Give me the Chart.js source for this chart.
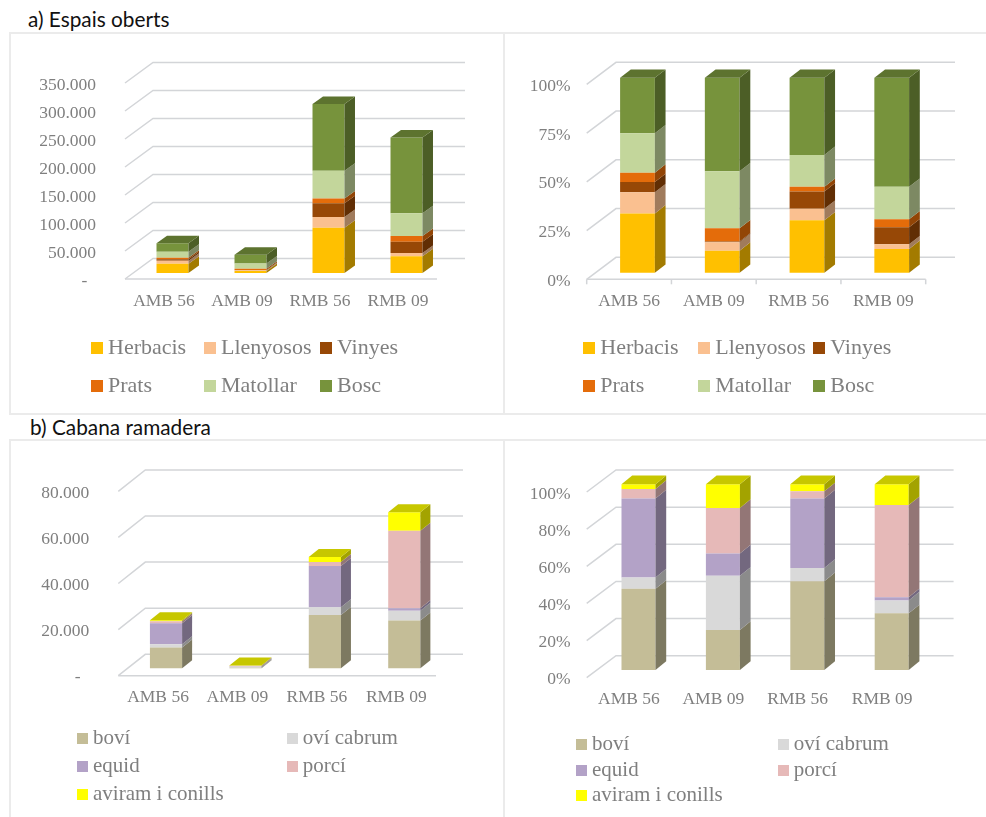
<!DOCTYPE html>
<html>
<head>
<meta charset="utf-8">
<title>Espais oberts i cabana ramadera</title>
<script src="https://cdn.jsdelivr.net/npm/chart.js@4"></script>
<style>
  html, body { margin: 0; padding: 0; background: #fff; }
  body { position: relative; width: 986px; height: 817px; overflow: hidden; filter: blur(0.4px); }
  .title { position: absolute; font-family: Lato, sans-serif; font-size: 20.8px; color: #111; white-space: nowrap; }
  .panel { position: absolute; box-sizing: border-box; border: 2px solid #ebebeb; border-right: none; }
  .panel canvas { position: absolute; left: -2px; top: -2px; }
  .item { position: absolute; font-family: "Liberation Serif", serif; color: #7f7f7f; white-space: nowrap; line-height: 1; }
  .item i { position: absolute; display: block; }
</style>
</head>
<body>
<div class="title" style="left:28px;top:6px">a) Espais oberts</div>
<div class="title" style="left:30px;top:414px">b) Cabana ramadera</div>
<div class="panel" id="p0"><canvas id="c0"></canvas></div>
<div class="panel" id="p1"><canvas id="c1"></canvas></div>
<div class="panel" id="p2"><canvas id="c2"></canvas></div>
<div class="panel" id="p3"><canvas id="c3"></canvas></div>
<script>
const categories = ['AMB 56', 'AMB 09', 'RMB 56', 'RMB 09'];

const landNames = ['Herbacis', 'Llenyosos', 'Vinyes', 'Prats', 'Matollar', 'Bosc'];
const landColors = ['#ffc000', '#fac090', '#974806', '#e46c0a', '#c3d69b', '#77933c'];
const herdNames = ['boví', 'oví cabrum', 'equid', 'porcí', 'aviram i conills'];
const herdColors = ['#c4bd97', '#d9d9d9', '#b3a2c7', '#e6b9b8', '#ffff00'];

// a) left, hectares
const herbacisAbs = [16300, 3700, 80800, 29700];
const llenyososAbs = [5600, 1400, 19000, 5900];
const vinyesAbs = [2700, 130, 24900, 20200];
const pratsAbs = [2500, 2200, 8300, 10100];
const matollarAbs = [10700, 9500, 49400, 41000];
const boscAbs = [15300, 15700, 119400, 134900];

// a) right, shares
const herbacisPct = [30.4, 11.3, 26.9, 12.2];
const llenyososPct = [10.8, 4.3, 5.9, 2.4];
const vinyesPct = [5.3, 0.4, 8.9, 8.7];
const pratsPct = [4.8, 6.8, 2.4, 4.1];
const matollarPct = [20.2, 29.2, 16.3, 16.7];
const boscPct = [28.5, 48.0, 39.6, 55.9];

// b) left, heads
const boviAbs = [9000, 270, 23100, 20700];
const oviAbs = [1400, 350, 3400, 4300];
const equidAbs = [9100, 145, 17900, 1000];
const porciAbs = [900, 290, 1700, 33700];
const aviramAbs = [400, 155, 2200, 8000];

// b) right, shares
const boviPct = [43.7, 21.5, 47.8, 30.5];
const oviPct = [6.1, 29.2, 7.1, 6.9];
const equidPct = [42.6, 12.1, 37.5, 1.8];
const porciPct = [5.1, 24.4, 3.8, 49.6];
const aviramPct = [2.5, 12.8, 3.8, 11.2];

const landTicksAbs = ['-  ', '50.000', '100.000', '150.000', '200.000', '250.000', '300.000', '350.000'];
const landTicksPct = ['0%', '25%', '50%', '75%', '100%'];
const herdTicksAbs = ['-  ', '20.000', '40.000', '60.000', '80.000'];
const herdTicksPct = ['0%', '20%', '40%', '60%', '80%', '100%'];

// tick labels sit this far under the line they belong to
const labelDrop = 2;
const lineColor = '#d3d5d8';

function shade(hex, f) {
  let n = parseInt(hex.slice(1), 16);
  let r = Math.round((n >> 16) * f);
  let g = Math.round(((n >> 8) & 255) * f);
  let b = Math.round((n & 255) * f);
  return 'rgb(' + r + ',' + g + ',' + b + ')';
}

function poly(ctx, pts, color) {
  ctx.fillStyle = color;
  ctx.beginPath();
  ctx.moveTo(pts[0][0], pts[0][1]);
  for (let i = 1; i < pts.length; i++) ctx.lineTo(pts[i][0], pts[i][1]);
  ctx.closePath();
  ctx.fill();
}

// fake Excel 3D look: walls behind the bars, side and top faces on them
const fake3d = {
  id: 'fake3d',
  beforeDatasetsDraw(chart, args, o) {
    let ctx = chart.ctx;
    let y = chart.scales.y;
    let x = chart.scales.x;
    let area = chart.chartArea;
    ctx.save();
    ctx.strokeStyle = lineColor;
    ctx.lineWidth = 1.5;
    y.ticks.forEach(function (t, i) {
      let py = y.getPixelForTick(i) - labelDrop;
      ctx.beginPath();
      ctx.moveTo(area.left, py);
      ctx.lineTo(area.left + o.wallDx, py - o.wallDy);
      ctx.lineTo(area.right + o.wallDx, py - o.wallDy);
      ctx.stroke();
    });
    let floorY = area.bottom - labelDrop;
    if (o.floor) {
      ctx.beginPath();
      ctx.moveTo(area.left, floorY);
      ctx.lineTo(area.right, floorY);
      ctx.stroke();
    }
    if (o.marks) {
      let band = area.width / categories.length;
      for (let i = 0; i <= categories.length; i++) {
        let px = x.getPixelForValue(0) - band / 2 + i * band;
        ctx.beginPath();
        ctx.moveTo(px, floorY);
        ctx.lineTo(px, floorY + 5);
        ctx.stroke();
      }
    }
    ctx.translate(o.shiftX, -(o.shiftY + labelDrop));
  },
  afterDatasetsDraw(chart, args, o) {
    let ctx = chart.ctx;
    let last = chart.data.datasets.length - 1;
    chart.data.datasets.forEach(function (ds, d) {
      chart.getDatasetMeta(d).data.forEach(function (bar) {
        let r = bar.x + bar.width / 2;
        let l = bar.x - bar.width / 2;
        poly(ctx, [[r, bar.y], [r + o.dx, bar.y - o.dy], [r + o.dx, bar.base - o.dy], [r, bar.base]], shade(ds.backgroundColor, 0.64));
        if (d == last) {
          poly(ctx, [[l, bar.y], [l + o.dx, bar.y - o.dy], [r + o.dx, bar.y - o.dy], [r, bar.y]], shade(ds.backgroundColor, 0.78));
        }
      });
    });
    ctx.restore();
  }
};

function makeChart(n, cfg) {
  let p = cfg.panel;
  let a = cfg.plot;
  let box = document.getElementById('p' + n);
  box.style.left = p.left + 'px';
  box.style.top = p.top + 'px';
  box.style.width = (p.right - p.left) + 'px';
  box.style.height = (p.bottom - p.top) + 'px';
  let canvas = document.getElementById('c' + n);
  canvas.width = p.right - p.left;
  canvas.height = p.bottom - p.top;

  let datasets = cfg.names.map(function (name, i) {
    return {
      label: name,
      data: cfg.values[i],
      backgroundColor: cfg.colors[i],
      borderWidth: 0,
      barPercentage: cfg.barPct,
      categoryPercentage: 1,
      clip: false
    };
  });

  let chart = new Chart(canvas, {
    type: 'bar',
    data: { labels: categories, datasets: datasets },
    plugins: [fake3d],
    options: {
      responsive: false,
      animation: false,
      layout: { padding: { top: a.top + labelDrop - p.top, right: p.right - a.right, left: 0, bottom: 0 } },
      plugins: {
        legend: { display: false },
        tooltip: { enabled: false },
        fake3d: cfg.depth
      },
      scales: {
        x: {
          stacked: true,
          afterFit: function (s) { s.height = p.bottom - a.bottom - labelDrop; },
          border: { display: false },
          grid: { display: false },
          ticks: {
            padding: cfg.xPad,
            maxRotation: 0,
            color: '#7f7f7f',
            font: { family: 'Liberation Serif', size: 17.5 }
          }
        },
        y: {
          stacked: true,
          min: 0,
          max: cfg.max,
          afterFit: function (s) { s.width = a.left - p.left; },
          border: { display: false },
          grid: { display: false },
          ticks: {
            stepSize: cfg.step,
            padding: cfg.yPad,
            color: '#7f7f7f',
            font: { family: 'Liberation Serif', size: 17.5 },
            callback: function (v, i) { return cfg.tickLabels[i]; }
          }
        }
      }
    }
  });

  // html legend built from the chart's datasets, in fixed columns
  chart.data.datasets.forEach(function (ds, i) {
    let col = i % cfg.legend.cols.length;
    let row = Math.floor(i / cfg.legend.cols.length);
    let item = document.createElement('div');
    item.className = 'item';
    item.style.left = (cfg.legend.cols[col] + cfg.legend.swatch + 5) + 'px';
    item.style.top = (cfg.legend.rows[row] - cfg.legend.size / 2 - 1) + 'px';
    item.style.fontSize = cfg.legend.size + 'px';
    item.textContent = ds.label;
    let sw = document.createElement('i');
    sw.style.left = -(cfg.legend.swatch + 5) + 'px';
    sw.style.top = (cfg.legend.size / 2 + 1 - cfg.legend.swatch / 2) + 'px';
    sw.style.width = cfg.legend.swatch + 'px';
    sw.style.height = cfg.legend.swatch + 'px';
    sw.style.background = ds.backgroundColor;
    item.appendChild(sw);
    document.body.appendChild(item);
  });
  return chart;
}

makeChart(0, {
  panel: { left: 9, top: 32, right: 503, bottom: 415 },
  plot: { left: 125, right: 437, top: 83, bottom: 279 },
  names: landNames, colors: landColors,
  values: [herbacisAbs, llenyososAbs, vinyesAbs, pratsAbs, matollarAbs, boscAbs],
  max: 350000, step: 50000, tickLabels: landTicksAbs,
  barPct: 0.41, xPad: 2, yPad: 21,
  depth: { wallDx: 28, wallDy: 20.5, shiftX: 8.5, shiftY: 6, dx: 10.5, dy: 7.5, floor: true, marks: false },
  legend: { cols: [91, 204, 320], rows: [347.7, 385.7], size: 22, swatch: 12 }
});

makeChart(1, {
  panel: { left: 503, top: 32, right: 990, bottom: 415 },
  plot: { left: 586.7, right: 925.7, top: 84.3, bottom: 279.3 },
  names: landNames, colors: landColors,
  values: [herbacisPct, llenyososPct, vinyesPct, pratsPct, matollarPct, boscPct],
  max: 100, step: 25, tickLabels: landTicksPct,
  barPct: 0.41, xPad: 2, yPad: 8,
  depth: { wallDx: 29.3, wallDy: 22, shiftX: 8.4, shiftY: 6.6, dx: 10.7, dy: 8.3, floor: true, marks: true },
  legend: { cols: [583.3, 698.3, 813.3], rows: [347.7, 385.7], size: 22, swatch: 12 }
});

makeChart(2, {
  panel: { left: 9, top: 439, right: 503, bottom: 830 },
  plot: { left: 118.3, right: 436, top: 491.3, bottom: 675.7 },
  names: herdNames, colors: herdColors,
  values: [boviAbs, oviAbs, equidAbs, porciAbs, aviramAbs],
  max: 80000, step: 20000, tickLabels: herdTicksAbs,
  barPct: 0.405, xPad: 1, yPad: 21,
  depth: { wallDx: 27, wallDy: 21.4, shiftX: 8, shiftY: 7.4, dx: 10, dy: 8, floor: true, marks: false },
  legend: { cols: [77, 286.7], rows: [738.3, 766, 794], size: 21, swatch: 11 }
});

makeChart(3, {
  panel: { left: 503, top: 439, right: 990, bottom: 830 },
  plot: { left: 586.7, right: 924.3, top: 492, bottom: 677.7 },
  names: herdNames, colors: herdColors,
  values: [boviPct, oviPct, equidPct, porciPct, aviramPct],
  max: 100, step: 20, tickLabels: herdTicksPct,
  barPct: 0.403, xPad: 1, yPad: 8,
  depth: { wallDx: 29.3, wallDy: 22, shiftX: 9.6, shiftY: 7.7, dx: 10.7, dy: 8.7, floor: false, marks: false },
  legend: { cols: [576, 777.7], rows: [744.3, 770, 795.7], size: 21, swatch: 11 }
});
</script>
</body>
</html>
